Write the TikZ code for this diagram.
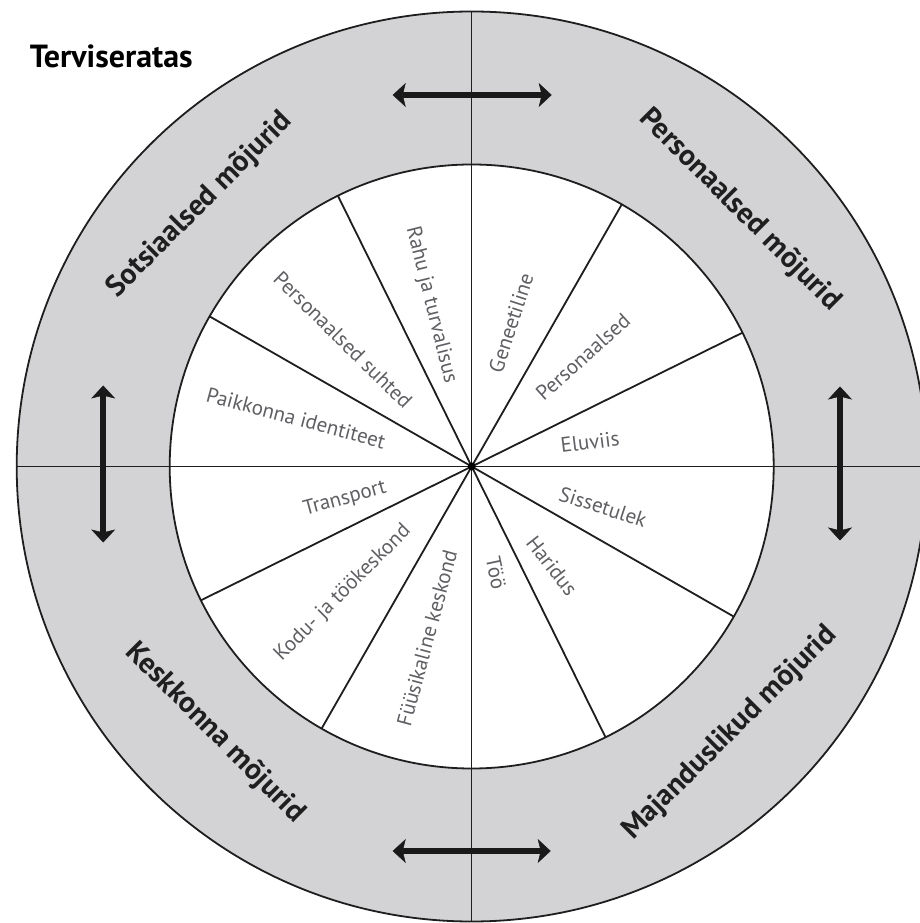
\documentclass[tikz,border=0pt]{standalone}
\usepackage{fontspec}
\setmainfont{PT Sans}
\usetikzlibrary{arrows.meta}
\definecolor{ringgray}{RGB}{211,211,213}
\definecolor{linegray}{RGB}{30,30,30}
\definecolor{labelgray}{RGB}{95,95,100}
\begin{document}
\begin{tikzpicture}[x=1pt,y=1pt,
  inlabel/.style={text=labelgray, font=\fontsize{21}{21}\selectfont, inner sep=0pt},
  outlabel/.style={text=black!88, font=\fontsize{29.5}{29.5}\selectfont\bfseries, inner sep=0pt},
  wheelline/.style={draw=linegray, line width=1.8pt},
  crossline/.style={draw=linegray, line width=1.5pt},
  dblarrow/.style={draw=black!90, line width=6.5pt,
    {Stealth[length=13pt,width=24pt,inset=3pt,line width=0.5pt]}-{Stealth[length=13pt,width=24pt,inset=3pt,line width=0.5pt]}}]
\useasboundingbox (-471.7,-456.5) rectangle (447.3,466.5);
% ring
\fill[ringgray] (0,0) circle[radius=455];
\fill[white] (0,0) circle[radius=302];
% spokes
\foreach \a in {26.3,60.2,116.3,150.2}{
  \draw[wheelline] (\a:302) -- (\a+180:302);
}
\draw[wheelline] (0,0) circle[radius=302];
% cross lines
\draw[crossline] (0,455) -- (0,-455);
\draw[crossline] (-455,0) -- (455,0);
\draw[wheelline] (0,0) circle[radius=455];
\fill[black] (0,0) circle[radius=4];
% arrows
\coordinate (tl) at (-79,371.5);
\coordinate (tr) at (80,371.5);
\coordinate (bl) at (-79,-384.5);
\coordinate (br) at (79,-384.5);
\coordinate (lt) at (-368.5,81);
\coordinate (lb) at (-368.5,-76);
\coordinate (rt) at (368.3,80);
\coordinate (rb) at (368.3,-74);
\draw[dblarrow] (tl) -- (tr);
\draw[dblarrow] (bl) -- (br);
\draw[dblarrow] (lt) -- (lb);
\draw[dblarrow] (rt) -- (rb);
% title
\node[anchor=base west, inner sep=0pt, font=\fontsize{32}{32}\selectfont\bfseries] (title) at (-442,398.5) {Terviseratas};
% outer labels
\node[outlabel, rotate=45] (sots) at (-271.7,261.5) {Sotsiaalsed mõjurid};
\node[outlabel, rotate=-45] (pers) at (268.3,256.5) {Personaalsed mõjurid};
\node[outlabel, rotate=-45] (kesk) at (-256.7,-266.5) {Keskkonna mõjurid};
\node[outlabel, rotate=45] (maj) at (258.3,-266.5) {Majanduslikud mõjurid};
% inner labels
\node[inlabel, rotate=-76] (rahu) at (-40.7,161.5) {Rahu ja turvalisus};
\node[inlabel, rotate=-44.5] (suhted) at (-128.7,126.5) {Personaalsed suhted};
\node[inlabel, rotate=-15] (paik) at (-175.7,48.5) {Paikkonna identiteet};
\node[inlabel, rotate=72] (gen) at (39.3,143.5) {Geneetiline};
\node[inlabel, rotate=42] (persin) at (111.3,109.5) {Personaalsed};
\node[inlabel, rotate=7] (elu) at (118.3,24.5) {Eluviis};
\node[inlabel, rotate=-18] (siss) at (131.3,-40.5) {Sissetulek};
\node[inlabel, rotate=-52] (har) at (80.3,-99.5) {Haridus};
\node[inlabel, rotate=-78] (too) at (24.3,-106.5) {Töö};
\node[inlabel, rotate=75] (fyys) at (-44.7,-171.5) {Füüsikaline keskond};
\node[inlabel, rotate=45] (kodu) at (-128.7,-126.5) {Kodu- ja töökeskond};
\node[inlabel, rotate=15] (trans) at (-126.7,-32.5) {Transport};
\end{tikzpicture}
\end{document}
